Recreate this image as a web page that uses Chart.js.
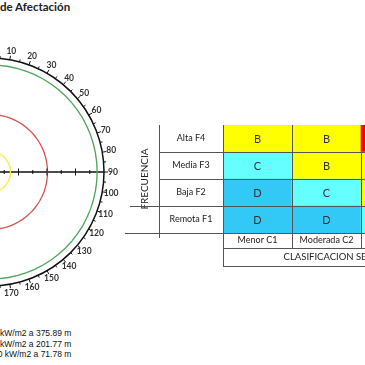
<!DOCTYPE html>
<html>
<head>
<meta charset="utf-8">
<script src="https://cdn.jsdelivr.net/npm/chart.js@4.4.1/dist/chart.umd.min.js"></script>
<style>
  html, body { margin: 0; padding: 0; background: #fff; width: 365px; height: 365px; overflow: hidden; position: relative; }
  #title { position: absolute; left: 0; top: 0; font: bold 11.5px Lato, sans-serif; color: #222; white-space: nowrap; }
  #polarBox { position: absolute; }
  #matrixBox { position: absolute; left: 125px; top: 115px; width: 443px; height: 160px; }
  #legend { position: absolute; top: 328px; font: 8.5px "Liberation Sans", Arial, sans-serif; line-height: 10.5px; color: #111; white-space: nowrap; }
</style>
</head>
<body>
<div id="title">de Afectación</div>
<div id="polarBox"><canvas id="polar" width="262" height="262"></canvas></div>
<div id="legend"></div>
<div id="matrixBox"><canvas id="matrix" width="443" height="160"></canvas></div>

<script>
// ---------------------------
// Radiation zones (polar plot)
// ---------------------------
const zoneLevels = ['3', '5', '10'];            // kW/m2
const zoneRadii = [375.89, 201.77, 71.78];     // m
const zoneColors = ['#4fa35a', '#d4524f', '#f4f03c'];
const distTicks = [50, 100, 150, 200, 250, 300, 350];
const maxDist = 400;

// compass spokes every 5 deg, labelled every 10
const bearings = [];
for (let b = 0; b < 360; b += 5) bearings.push(b);

// ---------------------------
// Risk matrix
// ---------------------------
const colLabels = ['Menor C1', 'Moderada C2', 'Grave C3', 'Severa C4', 'Catastrófica C5'];
const rowLabels = ['Alta F4', 'Media F3', 'Baja F2', 'Remota F1'];
const riskF4 = ['B', 'B', 'A', 'A', 'A'];
const riskF3 = ['C', 'B', 'B', 'A', 'A'];
const riskF2 = ['D', 'C', 'B', 'B', 'A'];
const riskF1 = ['D', 'D', 'C', 'B', 'B'];
const riskColors = { A: '#ff0000', B: '#ffff00', C: '#66ffff', D: '#33c9f7' };

const CX = -10.5, CY = 172, R_TARGET = 114;

// legend lines under the polar plot
const legendEl = document.getElementById('legend');
const mctx = document.createElement('canvas').getContext('2d');
mctx.font = '8.5px "Liberation Sans"';
zoneLevels.forEach((lv, i) => {
  const d = document.createElement('div');
  d.textContent = lv + ' kW/m2 a ' + zoneRadii[i] + ' m';
  legendEl.appendChild(d);
});
legendEl.style.left = (-mctx.measureText(zoneLevels[0] + ' ').width) + 'px';

// ===========================
// Polar (radar) chart
// ===========================
const idx90 = bearings.indexOf(90), idx270 = bearings.indexOf(270);

const polarTicks = {
  id: 'polarTicks',
  afterDraw(chart) {
    const s = chart.scales.r, ctx = chart.ctx;
    ctx.save();
    ctx.strokeStyle = '#111';
    ctx.lineWidth = 1;
    bearings.forEach((b, i) => {
      const len = b % 10 === 0 ? 4 : 2.5;
      const a = s.getPointPosition(i, s.drawingArea);
      const e = s.getPointPosition(i, s.drawingArea + len);
      ctx.beginPath(); ctx.moveTo(a.x, a.y); ctx.lineTo(e.x, e.y); ctx.stroke();
    });
    [idx90, idx270].forEach(i => distTicks.forEach(v => {
      const p = s.getPointPositionForValue(i, v);
      const h = v % 100 === 0 ? 3.5 : 2;
      ctx.beginPath(); ctx.moveTo(p.x, p.y - h); ctx.lineTo(p.x, p.y + h); ctx.stroke();
    }));
    // bearing labels, centred on the spoke just outside the ring
    ctx.fillStyle = '#333';
    ctx.font = 'bold 8.5px Lato';
    ctx.textAlign = 'center';
    ctx.textBaseline = 'middle';
    bearings.forEach((b, i) => {
      if (b % 10 !== 0) return;
      const p = s.getPointPosition(i, s.drawingArea + 9);
      ctx.fillText(String(b), p.x, p.y);
    });
    ctx.restore();
  }
};

const polar = new Chart(document.getElementById('polar'), {
  type: 'radar',
  data: {
    labels: bearings,
    datasets: zoneRadii.map((r, i) => ({
      label: zoneLevels[i] + ' kW/m2',
      data: bearings.map(() => r),
      borderColor: zoneColors[i],
      backgroundColor: 'rgba(0,0,0,0)',
      borderWidth: 1.3,
      pointRadius: 0,
      fill: false
    }))
  },
  options: {
    responsive: false,
    animation: false,
    layout: { padding: 20 },
    plugins: { legend: { display: false }, tooltip: { enabled: false } },
    scales: {
      r: {
        min: 0, max: maxDist,
        ticks: { display: false, stepSize: 50 },
        grid: {
          circular: true,
          color: c => (c.tick && c.tick.value === maxDist) ? '#111' : 'rgba(0,0,0,0)',
          lineWidth: 1.5
        },
        angleLines: {
          color: '#111',
          lineWidth: c => (c.index === idx90 || c.index === idx270) ? 1.3 : 0
        },
        pointLabels: { display: false }
      }
    }
  },
  plugins: [polarTicks]
});

// size the canvas so the outer ring has the wanted radius, then place its centre
let S = 262;
const dr = R_TARGET - polar.scales.r.drawingArea;
if (dr !== 0) { S += 2 * dr; polar.resize(S, S); }
const polarBox = document.getElementById('polarBox');
polarBox.style.left = (CX - polar.scales.r.xCenter) + 'px';
polarBox.style.top = (CY - polar.scales.r.yCenter) + 'px';

// ===========================
// Risk matrix (stacked bars)
// ===========================
const rowFont = { family: 'Lato', size: 9 };
mctx.font = '9px Lato';
const widestRow = Math.max(...rowLabels.map(t => mctx.measureText(t).width));
const LABEL_COL = 64;

const cellText = {
  id: 'cellText',
  afterDatasetsDraw(chart) {
    const ctx = chart.ctx;
    ctx.save();
    ctx.font = '11px Lato';
    ctx.fillStyle = '#333';
    ctx.textAlign = 'center';
    ctx.textBaseline = 'middle';
    chart.data.datasets.forEach((ds, di) => {
      chart.getDatasetMeta(di).data.forEach((bar, j) => {
        ctx.fillText(ds.grades[j], bar.x, (bar.y + bar.base) / 2 + 0.5);
      });
    });
    ctx.restore();
  }
};

const tableLines = {
  id: 'tableLines',
  afterDraw(chart) {
    const { ctx, chartArea: a } = chart;
    const y = chart.scales.y;
    const px = v => Math.round(v) + 0.5;
    const line = (x1, y1, x2, y2) => { ctx.beginPath(); ctx.moveTo(x1, y1); ctx.lineTo(x2, y2); ctx.stroke(); };
    const labelLeft = px(a.left - LABEL_COL);
    ctx.save();
    ctx.strokeStyle = '#555';
    ctx.lineWidth = 1;
    line(labelLeft, a.top, labelLeft, a.bottom + 5);
    line(5, px(y.getPixelForValue(1)), labelLeft, px(y.getPixelForValue(1)));
    line(0, px(y.getPixelForValue(0)), labelLeft, px(y.getPixelForValue(0)));
    line(a.left, px(a.bottom + 15), a.right, px(a.bottom + 15));
    line(a.left, px(a.bottom + 33), a.right, px(a.bottom + 33));
    line(px(a.left), a.bottom + 15, px(a.left), a.bottom + 33);
    ctx.restore();
  }
};

const rowsBottomUp = [riskF1, riskF2, riskF3, riskF4];
const rowNamesBottomUp = rowLabels.slice().reverse();

const matrix = new Chart(document.getElementById('matrix'), {
  type: 'bar',
  data: {
    labels: colLabels,
    datasets: rowsBottomUp.map((grades, i) => ({
      label: rowNamesBottomUp[i],
      grades: grades,
      data: grades.map(() => 1),
      backgroundColor: grades.map(g => riskColors[g]),
      borderWidth: 0,
      barPercentage: 1,
      categoryPercentage: 1,
      xAxisID: 'x',
      yAxisID: 'y'
    }))
  },
  options: {
    responsive: false,
    animation: false,
    layout: { padding: { top: 10, right: 0, left: 0, bottom: 0 } },
    plugins: { legend: { display: false }, tooltip: { enabled: false } },
    scales: {
      x: {
        type: 'category',
        position: 'bottom',
        stacked: true,
        offset: true,
        afterFit: s => { s.height = 42; },
        grid: { offset: true, z: 1, color: '#555', lineWidth: 1, tickLength: 15 },
        border: { display: false },
        ticks: { padding: -13, maxRotation: 0, autoSkip: false, color: '#222', font: { family: 'Lato', size: 9 } },
        title: {
          display: true,
          text: 'CLASIFICACION SEGÚN NIVEL DE CONSECUENCIA',
          color: '#222',
          font: { family: 'Lato', size: 9.5 },
          padding: { top: 0, bottom: 12 }
        }
      },
      y: { type: 'linear', stacked: true, min: 0, max: 4, display: false },
      rows: {
        type: 'category',
        axis: 'y',
        position: 'left',
        labels: rowLabels,
        offset: true,
        afterFit: s => { s.width = 98; },
        grid: {
          offset: true, z: 1, lineWidth: 1, tickLength: LABEL_COL,
          color: c => (c.index === 0 ? 'rgba(0,0,0,0)' : '#555')
        },
        border: { display: false },
        ticks: { crossAlign: 'center', padding: -LABEL_COL / 2 - widestRow / 2, color: '#222', font: rowFont },
        title: {
          display: true,
          text: 'FRECUENCIA',
          color: '#222',
          font: { family: 'Lato', size: 10 },
          padding: { top: 14, bottom: 0 }
        }
      }
    }
  },
  plugins: [cellText, tableLines]
});
</script>
</body>
</html>
